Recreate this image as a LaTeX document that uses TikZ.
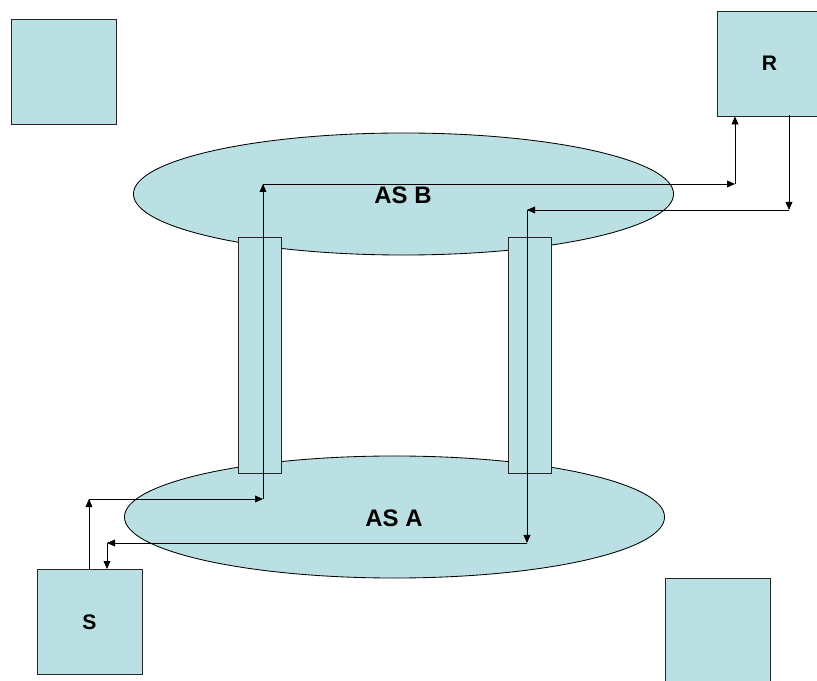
\documentclass[tikz,border=0pt]{standalone}
\usepackage{fontspec}
\setmainfont{Liberation Sans}
\usetikzlibrary{arrows.meta,shapes.geometric}
\definecolor{aspale}{HTML}{BBE0E3}

\begin{document}
\begin{tikzpicture}[x=0.025cm, y=-0.025cm,
    host/.style = {draw=black!85, fill=aspale, line width=0.6pt,
                   minimum width=2.625cm, minimum height=2.625cm, inner sep=0pt,
                   font=\fontsize{15}{18}\selectfont\bfseries},
    cloud/.style = {ellipse, draw=black, fill=aspale, line width=0.6pt,
                    minimum width=13.5cm, minimum height=3.05cm, inner sep=0pt},
    tube/.style = {draw=black!85, fill=aspale, line width=0.6pt,
                   minimum width=1.075cm, minimum height=5.9cm, inner sep=0pt},
    flow/.style = {-{Triangle[length=2mm,width=1.7mm]}, line width=0.6pt},
    aslabel/.style = {font=\fontsize{17}{20}\selectfont\bfseries}]

      \useasboundingbox (0,0) rectangle (817,681);

      % end hosts
      \node[host] (h1) at (63.5,71.5) {};
      \node[host] (R)  at (769.5,63.5) {R};
      \node[host] (S)  at (89.5,622) {S};
      \node[host] (h2) at (717.5,630.5) {};

      % the two domains
      \node[cloud] (asb) at (403.5,194) {};
      \node[aslabel] at (403,195) {AS B};
      \node[cloud] (asa) at (394.5,517) {};
      \node[aslabel] at (394,518) {AS A};

      % links between them
      \node[tube] (lnk1) at (259.5,355) {};
      \node[tube] (lnk2) at (530,355) {};

      % S -> R
      \coordinate (a1) at (89,499);
      \coordinate (a2) at (263,499);
      \coordinate (a3) at (263,184);
      \coordinate (a4) at (735,184);
      \draw[flow] (S.north -| a1) -- (a1);
      \draw[flow] (a1) -- (a2);
      \draw[flow] (a2) -- (a3);
      \draw[flow] (a3) -- (a4);
      \draw[flow] (a4) -- (a4 |- R.south);

      % R -> S
      \coordinate (b0) at (789,115);
      \coordinate (b1) at (789,210);
      \coordinate (b2) at (527,210);
      \coordinate (b3) at (527,543);
      \coordinate (b4) at (107,543);
      \draw[flow] (b0) -- (b1);
      \draw[flow] (b1) -- (b2);
      \draw[flow] (b2) -- (b3);
      \draw[flow] (b3) -- (b4);
      \draw[flow] (b4) -- (b4 |- S.north);
    \end{tikzpicture}
\end{document}
